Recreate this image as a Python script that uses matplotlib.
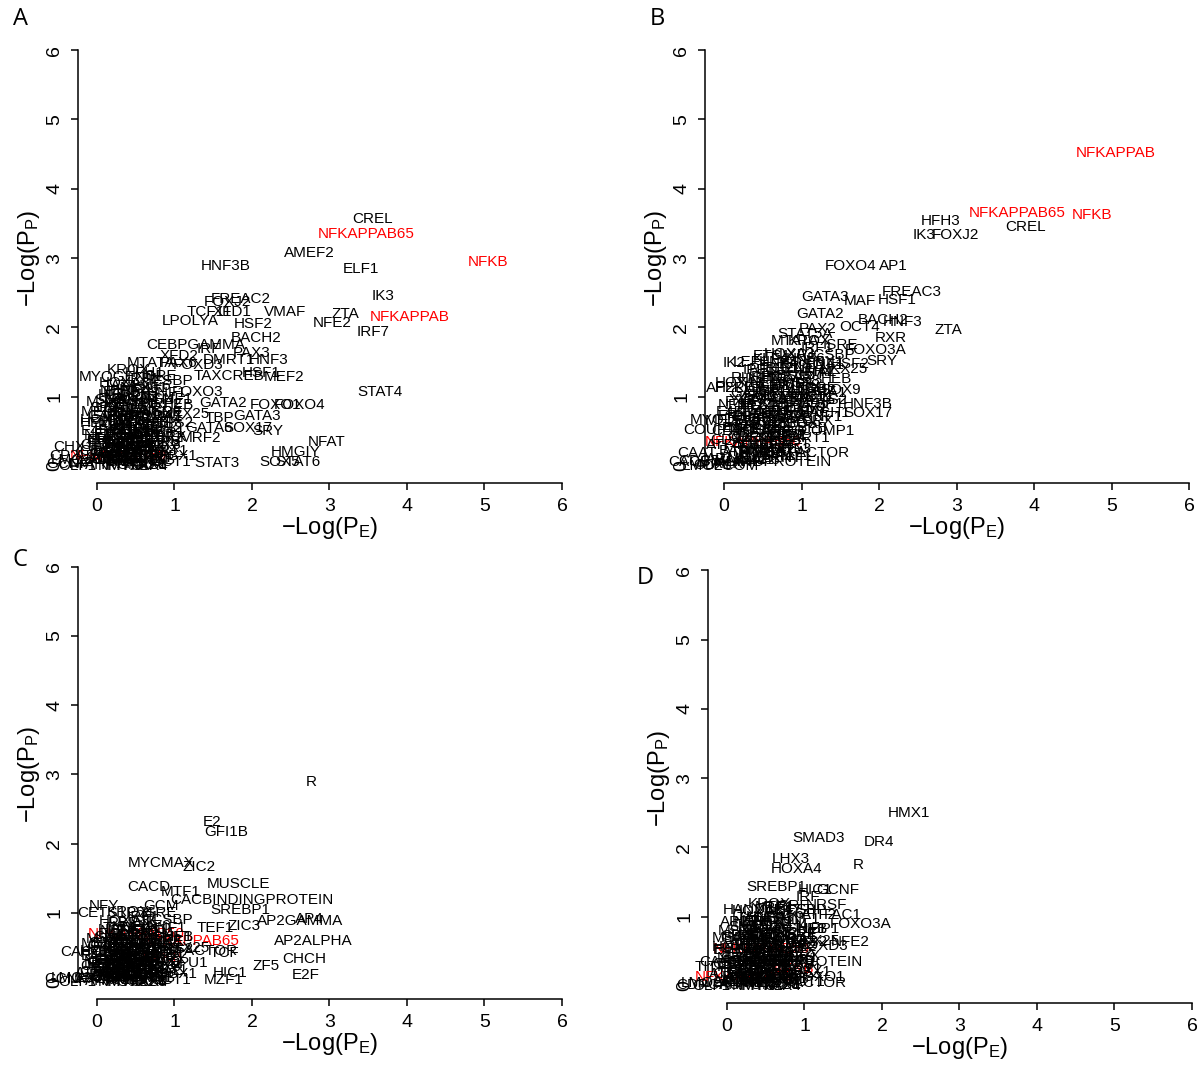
import matplotlib
matplotlib.use("Agg")
from matplotlib import pyplot as plt

plt.rcParams['font.family'] = ['Liberation Sans', 'DejaVu Sans']
plt.rcParams['mathtext.fontset'] = 'custom'
plt.rcParams['mathtext.rm'] = 'Liberation Sans'
plt.rcParams['mathtext.it'] = 'Liberation Sans'
plt.rcParams['mathtext.default'] = 'regular'

highlight = ['NFKAPPAB', 'NFKAPPAB50', 'NFKAPPAB65', 'NFKB']

# motifs sitting in the crowded corner of every panel
blob_names = ['AHR', 'AP2', 'AP3', 'AR', 'ARNT', 'ATF', 'ATF1', 'ATF3', 'ATF4', 'BCL6',
              'BRN2', 'CART1', 'CDP', 'CDX2', 'CEBP', 'CEBPA', 'CEBPB', 'CHOP', 'CREB', 'CRX',
              'DBP', 'E2A', 'E4BP4', 'EGR1', 'EGR2', 'ELK1', 'EN1', 'ETS2', 'EVI1', 'GABP',
              'GATA1', 'GRE', 'GFI1', 'GR', 'HEB', 'HES1', 'HFH4', 'HEN1', 'HLF', 'HNF1',
              'HNF4', 'HNF6', 'HOXA3', 'ICSBP', 'IRF1', 'ISRE', 'KROX', 'LMO2COM', 'LUN1', 'MAX',
              'MEIS1', 'MSX1', 'MYB', 'NF1', 'NKX25', 'NMYC', 'NRF1', 'OCT1', 'OLF1', 'P53',
              'PAX5', 'PAX8', 'PBX1', 'PPARG', 'RFX1', 'RORA1', 'SMAD', 'SP3', 'USF', 'YY1']
blob2_names = ['ALX4', 'AML1', 'ARP1', 'BARX2', 'BRACH', 'CART', 'CDXA', 'CLOX', 'CREM', 'DEAF1',
               'E2F1', 'E4F1', 'EBOX', 'EGR3', 'ELF2', 'ER', 'ERR1', 'ETF', 'FOXC1', 'FOXM1',
               'FXR', 'GATA4', 'GATA5', 'GLI', 'GRHL', 'HBP1', 'HELIOSA', 'HFH8', 'HMEF2', 'HNF1B',
               'HOX13', 'HOXA5', 'HTF', 'IPF1', 'IRF2', 'KAISO', 'KLF4', 'LEF1', 'LXR', 'MAZ',
               'MEF3', 'MIF1', 'MSX2', 'MYOGNF1', 'NANOG', 'NERF', 'NKX61', 'NRF2', 'NRL', 'OTX2',
               'PAX4', 'PITX2', 'PR', 'RREB1', 'S8', 'SIX1', 'SPZ1', 'SRF', 'TAL1', 'TATA']

# panel A
a_blob_pe = [0.05, 0.25, 0.45, -0.15, 0.60, 0.10, 0.35, 0.70, -0.05, 0.20,
             0.50, 0.85, 0.30, 0.62, 0.05, 0.40, 0.75, 0.15, 0.55, 0.95,
             0.28, 0.65, 0.10, 0.45, 0.85, 0.25, 0.60, 1.00, 0.35, 0.15,
             0.50, 0.90, 0.30, 0.65, 1.05, 0.40, 0.75, 0.55, 0.20, 0.90,
             0.45, 0.70, 0.35, 0.95, 0.60, 0.80, 0.40, -0.10, 0.18, 0.52,
             0.08, 0.28, 0.80, 0.02, 1.15, 0.30, 0.65, 0.95, -0.25, 0.15,
             0.48, 0.85, 1.05, 0.22, 0.38, 0.78, 0.25, 0.62, 0.55, 0.10]
a_blob_pp = [0.02, 0.05, 0.03, 0.04, 0.06, 0.12, 0.10, 0.15, 0.15, 0.20,
             0.18, 0.22, 0.25, 0.28, 0.30, 0.32, 0.35, 0.38, 0.40, 0.42,
             0.45, 0.48, 0.50, 0.52, 0.55, 0.58, 0.60, 0.62, 0.65, 0.72,
             0.75, 0.78, 0.82, 0.85, 0.88, 0.92, 0.95, 1.00, 1.02, 1.05,
             1.10, 1.15, 1.20, 1.22, 1.25, 1.30, 1.38, 0.08, 0.10, 0.12,
             0.78, 0.14, 0.08, 0.45, 0.75, 0.00, 0.02, 0.05, 0.00, 0.25,
             0.25, 0.30, 0.15, 0.35, 0.70, 0.72, 0.95, 1.05, 0.35, 0.60]
a_blob2_pe = [0.12, 0.38, 0.58, 0.22, 0.48, 0.72, 0.05, 0.30, 0.62, 0.42,
              0.18, 0.52, 0.80, 0.35, 0.65, 0.00, 0.25, 0.55, 0.45, 0.78,
              0.15, 0.40, 0.68, 0.32, 0.58, 0.88, 0.20, 0.48, 0.72, 0.38,
              0.10, 0.60, 0.82, 0.28, 0.50, 0.70, 0.42, 0.22, 0.65, 0.90,
              0.35, 0.55, 0.12, 0.75, 0.45, 0.30, 0.60, 0.85, 0.20, 0.50,
              0.68, 0.40, 0.25, 0.58, 0.78, 0.35, 0.15, 0.48, 0.62, 0.30]
a_blob2_pp = [0.08, 0.06, 0.10, 0.16, 0.14, 0.12, 0.22, 0.20, 0.18, 0.26,
              0.30, 0.28, 0.26, 0.34, 0.32, 0.38, 0.40, 0.36, 0.44, 0.40,
              0.46, 0.48, 0.44, 0.54, 0.52, 0.48, 0.62, 0.58, 0.56, 0.68,
              0.66, 0.64, 0.62, 0.74, 0.70, 0.78, 0.80, 0.84, 0.82, 0.70,
              0.88, 0.90, 0.92, 0.96, 0.98, 1.08, 1.12, 0.90, 0.12, 0.02,
              0.00, 0.00, 0.30, 0.22, 0.02, 0.56, 0.84, 0.44, 0.72, 1.15]
a_names = ['CREL', 'NFKAPPAB65', 'AMEF2', 'NFKB', 'HNF3B', 'ELF1', 'IK3', 'FREAC2', 'FOXJ2', 'TCF11',
           'XFD1', 'VMAF', 'ZTA', 'NFKAPPAB', 'LPOLYA', 'HSF2', 'NFE2', 'IRF7', 'BACH2', 'CEBPGAMMA',
           'IRF', 'PAX3', 'XFD2', 'DMRT1', 'HNF3', 'MTATA', 'PAX6', 'FOXD3', 'MYOGENIN', 'HFH1',
           'HSF1', 'MEF2', 'TAXCREB', 'STAT4', 'FOXO3', 'E47', 'GATA2', 'FOXO1', 'FOXO4', 'TBP',
           'GATA3', 'SOX17', 'SRY', 'GATA6', 'NFAT', 'HMGIY', 'SOX5', 'STAT6', 'STAT3', 'MRF2',
           'NFKAPPAB50', 'CHX10', 'GCNF', 'CP2']
a_pe = [3.56, 3.47, 2.74, 5.04, 1.66, 3.41, 3.69, 1.85, 1.68, 1.45,
        1.75, 2.43, 3.21, 4.03, 1.20, 2.02, 3.04, 3.56, 2.06, 1.28,
        1.45, 2.00, 1.06, 1.70, 2.22, 0.70, 1.05, 1.30, 0.30, 0.62,
        2.12, 2.42, 1.70, 3.65, 1.30, 0.25, 1.63, 2.30, 2.62, 1.58,
        2.06, 1.95, 2.20, 1.45, 2.96, 2.57, 2.36, 2.60, 1.55, 1.33,
        0.27, -0.25, -0.38, -0.42]
a_pp = [3.56, 3.35, 3.07, 2.94, 2.88, 2.84, 2.45, 2.41, 2.36, 2.22,
        2.22, 2.22, 2.19, 2.15, 2.09, 2.05, 2.06, 1.93, 1.85, 1.75,
        1.69, 1.63, 1.58, 1.53, 1.53, 1.49, 1.49, 1.46, 1.28, 1.34,
        1.34, 1.28, 1.30, 1.07, 1.07, 1.07, 0.91, 0.88, 0.88, 0.69,
        0.72, 0.55, 0.50, 0.55, 0.35, 0.20, 0.05, 0.05, 0.04, 0.40,
        0.15, 0.28, 0.03, 0.14]

# panel B
b_blob_pe = [0.05, 0.30, 0.55, -0.10, 0.75, 0.15, 0.45, 0.90, 0.00, 0.35,
             0.65, 1.05, 0.25, 0.80, 0.10, 0.55, 1.00, 0.40, 0.70, 1.20,
             0.30, 0.85, 0.20, 0.60, 1.10, 0.45, 0.95, 1.35, 0.50, 0.35,
             0.75, 1.25, 0.65, 1.00, 1.45, 0.80, 1.15, 0.90, 0.55, 1.30,
             0.70, 1.05, 0.85, 1.40, 1.20, 1.50, 1.10, -0.05, 0.20, 0.60,
             0.05, 0.40, 0.95, 0.10, 1.55, 0.50, 0.80, 1.15, -0.15, 0.30,
             0.70, 1.00, 1.30, 0.45, 0.60, 1.25, 0.75, 1.10, 0.85, 0.25]
b_blob_pp = [0.03, 0.05, 0.08, 0.10, 0.12, 0.20, 0.18, 0.25, 0.30, 0.32,
             0.35, 0.40, 0.42, 0.45, 0.50, 0.52, 0.55, 0.58, 0.62, 0.65,
             0.70, 0.72, 0.78, 0.80, 0.85, 0.88, 0.92, 0.95, 1.00, 1.05,
             1.08, 1.12, 1.15, 1.20, 1.25, 1.30, 1.35, 1.40, 1.02, 1.45,
             1.50, 1.55, 1.62, 1.60, 1.70, 1.75, 1.80, 0.00, 0.12, 0.22,
             0.65, 0.40, 0.68, 0.88, 1.40, 0.25, 0.45, 1.00, 0.02, 0.60,
             0.95, 1.22, 1.50, 0.70, 1.28, 1.05, 0.75, 0.78, 1.18, 0.95]
b_blob2_pe = [0.15, 0.40, 0.65, 0.25, 0.55, 0.85, 0.10, 0.35, 0.75, 0.50,
              0.20, 0.60, 0.95, 0.40, 0.80, 0.05, 0.30, 0.70, 0.55, 1.00,
              0.20, 0.50, 0.85, 0.40, 0.70, 1.10, 0.30, 0.60, 0.95, 0.50,
              0.20, 0.80, 1.15, 0.45, 0.70, 1.00, 0.60, 0.35, 0.90, 1.25,
              0.55, 0.80, 0.30, 1.05, 0.70, 0.85, 1.00, 1.20, 0.25, 0.55,
              0.80, 0.45, 0.30, 0.65, 0.95, 0.50, 0.40, 0.75, 0.90, 1.15]
b_blob2_pp = [0.05, 0.08, 0.15, 0.22, 0.25, 0.30, 0.38, 0.40, 0.42, 0.48,
              0.55, 0.58, 0.60, 0.65, 0.70, 0.72, 0.75, 0.78, 0.85, 0.82,
              0.92, 0.95, 0.98, 1.02, 1.05, 1.08, 1.12, 1.15, 1.18, 1.25,
              1.20, 1.28, 1.32, 1.38, 1.42, 1.45, 1.55, 1.50, 1.60, 1.35,
              0.30, 0.45, 0.10, 0.70, 0.50, 0.90, 1.00, 1.10, 0.55, 0.68,
              0.20, 0.18, 0.85, 1.40, 1.50, 0.62, 0.88, 0.35, 0.15, 0.95]
b_names = ['NFKAPPAB', 'NFKAPPAB65', 'NFKB', 'HFH3', 'CREL', 'IK3', 'FOXJ2', 'FOXO4', 'AP1', 'FREAC3',
           'GATA3', 'MAF', 'HSF1', 'GATA2', 'BACH2', 'HNF3', 'OCT4', 'PAX2', 'ZTA', 'STAT5A',
           'RXR', 'MTATA', 'FOXO3A', 'ETS1', 'SRY', 'IK2', 'HSF2', 'RUSH', 'SOX9', 'AP2REP',
           'SP1', 'HNF3B', 'BACH1', 'SOX17', 'COMP1', 'NFKAPPAB50', 'ETSFACTOR', 'CACBINDINGPROTEIN',
           'MYOD', 'COUPTF', 'CAAT', 'CDC5']
b_pe = [5.05, 3.78, 4.75, 2.80, 3.89, 2.58, 2.98, 1.63, 2.18, 2.42,
        1.30, 1.75, 2.23, 1.24, 2.05, 2.30, 1.75, 1.21, 2.89, 1.05,
        2.15, 0.91, 1.95, 0.62, 2.04, 0.13, 1.63, 0.37, 1.50, 0.15,
        1.36, 1.85, 1.30, 1.85, 1.33, 0.38, 1.03, 0.33,
        -0.15, -0.12, -0.35, -0.32]
b_pp = [4.52, 3.65, 3.62, 3.53, 3.45, 3.34, 3.33, 2.88, 2.88, 2.51,
        2.44, 2.38, 2.39, 2.19, 2.11, 2.08, 2.00, 1.97, 1.96, 1.91,
        1.84, 1.80, 1.68, 1.59, 1.51, 1.49, 1.47, 1.27, 1.10, 1.13,
        0.89, 0.89, 0.77, 0.77, 0.50, 0.35, 0.19, 0.05,
        0.66, 0.52, 0.19, 0.07]

# panel C
c_blob_pe = [0.05, 0.25, 0.45, -0.15, 0.60, 0.10, 0.35, 0.70, -0.05, 0.20,
             0.50, 0.85, 0.30, 0.62, 0.05, 0.40, 0.75, 0.15, 0.55, 0.95,
             0.28, 0.65, 0.10, 0.45, 0.85, 0.25, 0.60, 1.00, 0.35, 0.15,
             0.50, 0.90, 0.30, 0.65, 1.05, 0.40, 0.75, 0.55, 0.20, 0.90,
             0.45, 0.70, 0.35, 0.95, 0.60, 0.80, 0.40, -0.10, 0.18, 0.52,
             0.08, 0.28, 0.80, 0.02, 1.15, 0.30, 0.65, 0.95, -0.25, 0.15,
             0.48, 0.85, 1.05, 0.22, 0.38, 0.78, 0.25, 0.62, 0.55, 0.10]
c_blob_pp = [0.02, 0.04, 0.03, 0.05, 0.06, 0.10, 0.08, 0.12, 0.14, 0.15,
             0.16, 0.18, 0.20, 0.22, 0.24, 0.25, 0.28, 0.30, 0.30, 0.32,
             0.35, 0.36, 0.38, 0.40, 0.42, 0.44, 0.45, 0.48, 0.50, 0.52,
             0.55, 0.58, 0.60, 0.62, 0.65, 0.68, 0.70, 0.72, 0.75, 0.78,
             0.80, 0.82, 0.88, 0.90, 0.95, 1.00, 1.02, 0.06, 0.08, 0.10,
             0.55, 0.12, 0.06, 0.30, 0.50, 0.00, 0.02, 0.04, 0.00, 0.18,
             0.20, 0.22, 0.12, 0.26, 0.50, 0.55, 0.66, 0.75, 0.28, 0.45]
c_blob2_pe = [0.12, 0.38, 0.58, 0.22, 0.48, 0.72, 0.05, 0.30, 0.62, 0.42,
              0.18, 0.52, 0.80, 0.35, 0.65, 0.00, 0.25, 0.55, 0.45, 0.78,
              0.15, 0.40, 0.68, 0.32, 0.58, 0.88, 0.20, 0.48, 0.72, 0.38,
              0.10, 0.60, 0.82, 0.28, 0.50, 0.70, 0.42, 0.22, 0.65, 0.90,
              0.35, 0.55, 0.12, 0.75, 0.45, 0.30, 0.60, 0.85, 0.20, 0.50,
              0.68, 0.40, 0.25, 0.58, 0.78, 0.35, 0.15, 0.48, 0.62, 0.30]
c_blob2_pp = [0.05, 0.04, 0.07, 0.11, 0.10, 0.08, 0.15, 0.14, 0.12, 0.18,
              0.20, 0.19, 0.18, 0.23, 0.22, 0.26, 0.27, 0.25, 0.30, 0.27,
              0.32, 0.33, 0.30, 0.37, 0.35, 0.33, 0.42, 0.40, 0.38, 0.46,
              0.45, 0.44, 0.42, 0.50, 0.48, 0.53, 0.55, 0.57, 0.56, 0.48,
              0.60, 0.61, 0.63, 0.65, 0.67, 0.74, 0.76, 0.61, 0.08, 0.01,
              0.00, 0.00, 0.20, 0.15, 0.01, 0.38, 0.57, 0.30, 0.49, 0.78]
c_names = ['R', 'E2', 'GFI1B', 'MYCMAX', 'ZIC2', 'MUSCLE', 'CACD', 'MTF1', 'CACBINDINGPROTEIN', 'NFY',
           'CETS1P54', 'SREBP1', 'GCM', 'AP2GAMMA', 'AP4', 'ZIC3', 'TEF1', 'NFKAPPAB50', 'NFKAPPAB65', 'AP2ALPHA',
           'ETSFACTOR', 'TCF', 'CHCH', 'ZF5', 'E2F', 'PU1', 'HIC1', 'MZF1', 'NFKB', 'CACCC',
           'GCNF', 'RBPJK']
c_pe = [2.76, 1.48, 1.67, 0.83, 1.32, 1.82, 0.67, 1.08, 2.00, 0.09,
        0.24, 1.85, 0.83, 2.62, 2.74, 1.90, 1.53, 0.51, 1.22, 2.79,
        1.23, 1.65, 2.68, 2.18, 2.69, 1.25, 1.72, 1.63, 0.85, -0.12,
        -0.40, 0.45]
c_pp = [2.89, 2.32, 2.17, 1.72, 1.67, 1.42, 1.37, 1.30, 1.19, 1.10,
        1.00, 1.04, 1.10, 0.88, 0.91, 0.81, 0.78, 0.70, 0.59, 0.59,
        0.45, 0.42, 0.33, 0.24, 0.11, 0.28, 0.14, 0.04, 0.35, 0.44,
        0.05, 0.86]

# panel D
d_blob_pe = [0.10, 0.30, 0.50, -0.05, 0.65, 0.15, 0.40, 0.75, 0.00, 0.25,
             0.55, 0.90, 0.35, 0.70, 0.08, 0.45, 0.80, 0.20, 0.60, 1.00,
             0.30, 0.70, 0.12, 0.50, 0.90, 0.28, 0.65, 1.05, 0.40, 0.18,
             0.55, 0.95, 0.35, 0.70, 1.10, 0.45, 0.80, 0.60, 0.25, 0.95,
             0.50, 0.75, 0.40, 1.00, 0.65, 0.85, 0.55, -0.10, 0.20, 0.58,
             0.10, 0.32, 0.85, 0.05, 1.15, 0.35, 0.70, 1.00, -0.20, 0.18,
             0.52, 0.88, 1.10, 0.28, 0.42, 0.82, 0.30, 0.68, 0.60, 0.15]
d_blob_pp = [0.02, 0.04, 0.05, 0.06, 0.08, 0.12, 0.10, 0.15, 0.18, 0.20,
             0.22, 0.24, 0.26, 0.30, 0.32, 0.34, 0.36, 0.40, 0.42, 0.44,
             0.46, 0.48, 0.52, 0.54, 0.56, 0.58, 0.62, 0.64, 0.66, 0.70,
             0.72, 0.74, 0.78, 0.80, 0.82, 0.86, 0.88, 0.92, 0.94, 0.96,
             1.00, 1.04, 1.08, 1.10, 1.12, 1.15, 1.18, 0.05, 0.08, 0.12,
             0.70, 0.14, 0.10, 0.40, 0.65, 0.00, 0.02, 0.06, 0.00, 0.25,
             0.28, 0.30, 0.20, 0.36, 0.60, 0.68, 0.85, 0.98, 0.38, 0.55]
d_blob2_pe = [0.15, 0.40, 0.62, 0.25, 0.52, 0.78, 0.08, 0.35, 0.68, 0.45,
              0.22, 0.58, 0.85, 0.38, 0.70, 0.02, 0.28, 0.60, 0.50, 0.82,
              0.18, 0.45, 0.72, 0.35, 0.62, 0.92, 0.25, 0.52, 0.78, 0.42,
              0.12, 0.65, 0.88, 0.32, 0.55, 0.75, 0.48, 0.28, 0.70, 0.95,
              0.40, 0.60, 0.15, 0.80, 0.50, 0.35, 0.65, 0.90, 0.22, 0.55,
              0.72, 0.45, 0.28, 0.62, 0.82, 0.40, 0.18, 0.52, 0.68, 0.35]
d_blob2_pp = [0.06, 0.05, 0.08, 0.13, 0.12, 0.10, 0.18, 0.17, 0.15, 0.22,
              0.25, 0.24, 0.22, 0.29, 0.27, 0.32, 0.34, 0.31, 0.37, 0.34,
              0.40, 0.41, 0.38, 0.46, 0.44, 0.41, 0.53, 0.50, 0.48, 0.58,
              0.56, 0.55, 0.53, 0.63, 0.60, 0.67, 0.69, 0.72, 0.70, 0.60,
              0.75, 0.77, 0.79, 0.82, 0.84, 0.92, 0.95, 0.77, 0.10, 0.02,
              0.00, 0.00, 0.25, 0.18, 0.02, 0.48, 0.72, 0.38, 0.62, 0.98]
d_names = ['HMX1', 'SMAD3', 'DR4', 'LHX3', 'HOXA4', 'R', 'SREBP1', 'HIC1', 'GCNF', 'IRF',
           'NRSF', 'HAND1E47', 'MTF1', 'ATF2', 'FAC1', 'FOXO3A', 'LBP1', 'AP2REP', 'NFE2', 'FOXD3',
           'NFKAPPAB50', 'CACBINDINGPROTEIN', 'NFKB', 'NFKAPPAB65', 'FOXO1', 'ETSFACTOR', 'TITF1', 'CDPCR3']
d_pe = [2.35, 1.18, 1.96, 0.82, 0.90, 1.70, 0.64, 1.14, 1.43, 1.04,
        1.29, 0.45, 0.62, 1.19, 1.49, 1.73, 1.22, 0.30, 1.59, 1.24,
        0.44, 0.70, 0.87, 0.21, 1.19, 0.96, -0.15, -0.25]
d_pp = [2.50, 2.13, 2.08, 1.83, 1.69, 1.75, 1.43, 1.38, 1.39, 1.28,
        1.17, 1.10, 1.14, 1.03, 1.02, 0.90, 0.82, 0.93, 0.64, 0.58,
        0.54, 0.35, 0.25, 0.13, 0.13, 0.04, 0.28, 0.02]

fig = plt.figure(figsize=(12, 10.83), dpi=100)

panels = [
    ('A', [0.0653, 0.5544, 0.4185, 0.4146], a_names, a_pe, a_pp,
     [(a_blob_pe, a_blob_pp), (a_blob2_pe, a_blob2_pp)], (0.017, 0.982)),
    ('B', [0.5879, 0.5544, 0.4185, 0.4146], b_names, b_pe, b_pp,
     [(b_blob_pe, b_blob_pp), (b_blob2_pe, b_blob2_pp)], (0.548, 0.982)),
    ('C', [0.0653, 0.0776, 0.4185, 0.4146], c_names, c_pe, c_pp,
     [(c_blob_pe, c_blob_pp), (c_blob2_pe, c_blob2_pp)], (0.017, 0.483)),
    ('D', [0.5903, 0.0742, 0.4185, 0.4146], d_names, d_pe, d_pp,
     [(d_blob_pe, d_blob_pp), (d_blob2_pe, d_blob2_pp)], (0.538, 0.466)),
]

FS = 11


def draw_panel(ax, names, pe, pp, blobs):
    ax.set_xlim(-0.24, 6.24)
    ax.set_ylim(-0.24, 6.24)
    # red motifs first so the crowd covers them like the original
    for n, x, y in zip(names, pe, pp):
        if n in highlight:
            ax.text(x, y, n, color='red', fontsize=FS, ha='center', va='center')
    for blob_list, (bx, by) in zip([blob_names, blob2_names], blobs):
        for n, x, y in zip(blob_list, bx, by):
            ax.text(x, y, n, color='black', fontsize=FS, ha='center', va='center')
    for n, x, y in zip(names, pe, pp):
        if n not in highlight:
            ax.text(x, y, n, color='black', fontsize=FS, ha='center', va='center')

    for s in ['top', 'right']:
        ax.spines[s].set_visible(False)
    ax.spines['left'].set_bounds(0, 6)
    ax.spines['bottom'].set_bounds(0, 6)
    ax.spines['left'].set_linewidth(1.1)
    ax.spines['bottom'].set_linewidth(1.1)
    ax.set_xticks(range(7))
    ax.set_yticks(range(7))
    ax.tick_params(length=5, width=1.1, pad=6, labelsize=14)
    ax.tick_params(axis='y', labelrotation=90)
    for t in ax.get_yticklabels():
        t.set_va('center')
    ax.set_xlabel('\u2212Log(P$_E$)', fontsize=17, labelpad=0)
    ax.set_ylabel('\u2212Log(P$_P$)', fontsize=17, labelpad=3)
    ax.patch.set_visible(False)


for letter, rect, names, pe, pp, blobs, pos in panels:
    ax = fig.add_axes(rect)
    draw_panel(ax, names, pe, pp, blobs)
    fig.text(pos[0], pos[1], letter, fontsize=17, family='Open Sans', ha='center', va='center')

fig.savefig('out.png', dpi=100)
